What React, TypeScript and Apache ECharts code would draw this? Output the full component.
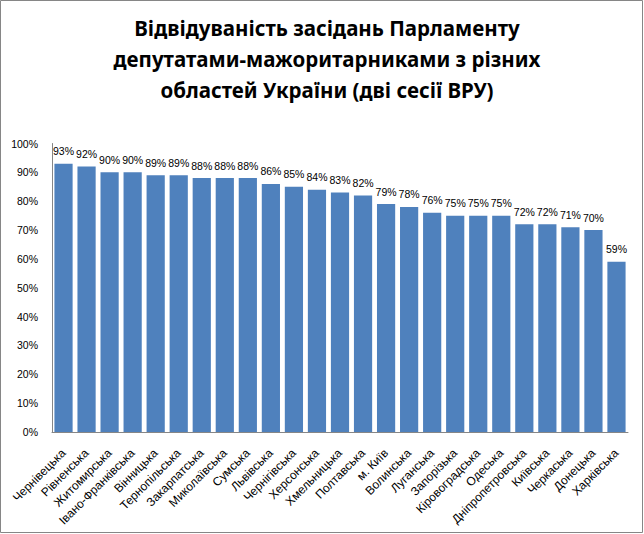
import React, { useEffect, useRef } from "react";
import * as echarts from "echarts";

const titleText =
  "Відвідуваність засідань Парламенту\nдепутатами-мажоритарниками з різних\nобластей України (дві сесії ВРУ)";

const regions = [
  "Чернівецька",
  "Рівненська",
  "Житомирська",
  "Івано-Франківська",
  "Вінницька",
  "Тернопільська",
  "Закарпатська",
  "Миколаївська",
  "Сумська",
  "Львівська",
  "Чернігівська",
  "Херсонська",
  "Хмельницька",
  "Полтавська",
  "м. Київ",
  "Волинська",
  "Луганська",
  "Запорізька",
  "Кіровоградська",
  "Одеська",
  "Дніпропетровська",
  "Київська",
  "Черкаська",
  "Донецька",
  "Харківська",
];

const attendance = [
  93, 92, 90, 90, 89, 89, 88, 88, 88, 86, 85, 84, 83, 82, 79, 78, 76, 75, 75,
  75, 72, 72, 71, 70, 59,
];

const yMin = 0;
const yMax = 100;
const yStep = 10;

export default function App() {
  const ref = useRef<HTMLDivElement>(null);
  useEffect(() => {
    if (!ref.current) return;
    const chart = echarts.init(ref.current, undefined, { renderer: "svg" });
    const smallFont = "'Liberation Sans', Arial, sans-serif";
    chart.setOption({
      animation: false,
      backgroundColor: "#ffffff",
      title: {
        text: titleText,
        left: 322,
        top: 7,
        textAlign: "center",
        textStyle: {
          fontFamily: "'Noto Sans', sans-serif",
          fontWeight: "bold",
          fontSize: 20.5,
          lineHeight: 31,
          color: "#000000",
        },
      },
      graphic: [
        {
          type: "rect",
          shape: { x: 0.5, y: 0.5, width: 642, height: 532 },
          style: { fill: "none", stroke: "#868686", lineWidth: 1 },
          silent: true,
        },
      ],
      grid: { left: 52, right: 16, top: 143.5, bottom: 102, containLabel: false },
      xAxis: {
        type: "category",
        data: regions,
        axisLine: { show: true, lineStyle: { color: "#868686", width: 1 } },
        axisTick: { show: false },
        axisLabel: {
          interval: 0,
          rotate: 45,
          margin: 19,
          fontFamily: smallFont,
          fontSize: 12,
          color: "#000000",
        },
      },
      yAxis: {
        type: "value",
        min: yMin,
        max: yMax,
        interval: yStep,
        splitLine: { show: false },
        axisLine: { show: true, lineStyle: { color: "#868686", width: 1 } },
        axisTick: { show: false },
        axisLabel: {
          formatter: "{value}%",
          margin: 14,
          fontFamily: smallFont,
          fontSize: 10.5,
          color: "#000000",
        },
      },
      series: [
        {
          type: "bar",
          data: attendance,
          barCategoryGap: "21%",
          itemStyle: { color: "#4F81BD" },
          label: {
            show: true,
            position: "top",
            distance: 7,
            formatter: "{c}%",
            fontFamily: smallFont,
            fontSize: 10.5,
            color: "#000000",
          },
        },
      ],
    });
    return () => chart.dispose();
  }, []);
  return (
    <div
      ref={ref}
      style={{ position: "fixed", left: 0, top: 0, width: 644, height: 534 }}
    />
  );
}
